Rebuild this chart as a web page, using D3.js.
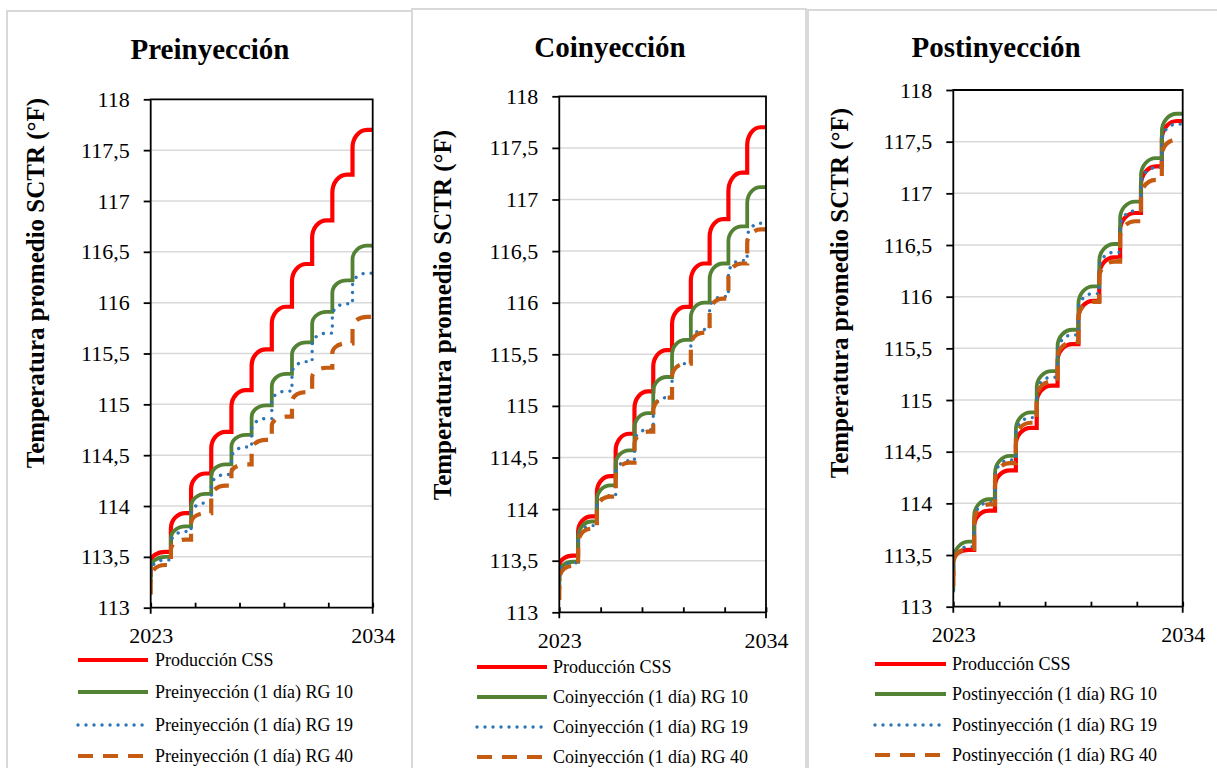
<!DOCTYPE html>
<html>
<head>
<meta charset="utf-8">
<script src="https://cdn.jsdelivr.net/npm/d3@7"></script>
<style>
  body { margin: 0; background: #fff; }
  text { font-family: "Liberation Serif", "Times New Roman", serif; fill: #000; }
  .tick line { stroke: #000; stroke-width: 1.8; }
  .domain { display: none; }
</style>
</head>
<body>
<svg id="chart" width="1217" height="768"></svg>
<script>
// step years: each cycle starts at the beginning of the year
const stepYears = [2023, 2024, 2025, 2026, 2027, 2028, 2029, 2030, 2031, 2032, 2033];
const endYear = 2034;
const yTicks = [113, 113.5, 114, 114.5, 115, 115.5, 116, 116.5, 117, 117.5, 118];
const xTicks = [2023, 2025.2, 2027.4, 2029.6, 2031.8, 2034];
const xTickLabels = [2023, 2034];

// base case (same in the three panels)
const produccionStart = 113.3;
const produccionCSS = [113.55, 113.93, 114.32, 114.73, 115.14, 115.54, 115.96, 116.38, 116.81, 117.26, 117.70];

// Preinyección
const preStart = [113.24, 113.2, 113.13];
const preRG10 = [113.50, 113.80, 114.12, 114.41, 114.70, 114.99, 115.30, 115.61, 115.91, 116.22, 116.56];
const preRG19 = [113.47, 113.75, 114.03, 114.31, 114.58, 114.86, 115.13, 115.42, 115.70, 115.99, 116.29];
const preRG40 = [113.42, 113.67, 113.93, 114.20, 114.41, 114.65, 114.88, 115.12, 115.36, 115.60, 115.86];

// Coinyección
const coStart = [113.22, 113.2, 113.12];
const coRG10 = [113.49, 113.88, 114.23, 114.57, 114.93, 115.28, 115.64, 116.00, 116.38, 116.74, 117.12];
const coRG19 = [113.48, 113.84, 114.13, 114.47, 114.77, 115.08, 115.41, 115.74, 116.06, 116.41, 116.77];
const coRG40 = [113.45, 113.81, 114.12, 114.45, 114.75, 115.08, 115.41, 115.71, 116.04, 116.38, 116.71];

// Postinyección
const postStart = [113.15, 113.15, 113.2];
const postRG10 = [113.63, 114.04, 114.46, 114.88, 115.28, 115.68, 116.10, 116.51, 116.92, 117.34, 117.77];
const postRG19 = [113.58, 114.01, 114.42, 114.83, 115.22, 115.63, 116.03, 116.43, 116.83, 117.25, 117.67];
const postRG40 = [113.56, 113.99, 114.39, 114.78, 115.18, 115.56, 115.95, 116.34, 116.73, 117.13, 117.52];

const styles = [
  { color: '#FF0000', width: 4.2, dash: null, cap: 'butt' },
  { color: '#548235', width: 3.8, dash: null, cap: 'butt' },
  { color: '#2E75B6', width: 3.4, dash: '0.01 8', cap: 'round' },
  { color: '#C55A11', width: 4.2, dash: '15 10', cap: 'butt' }
];

const panels = [
  { title: 'Preinyección', name: 'Preinyección',
    box: [7, 11, 405], plot: [150.7, 99.3, 372.7, 607.7],
    titleX: 210, titleY: 59, labelX: 44, labelY: 283,
    legend: { x1: 78, x2: 148, tx: 155, rows: [660, 692, 725, 756] },
    starts: preStart, series: [preRG10, preRG19, preRG40] },
  { title: 'Coinyección', name: 'Coinyección',
    box: [412, 9, 394], plot: [559.3, 96.3, 766, 612.3],
    titleX: 610, titleY: 57, labelX: 451, labelY: 315,
    legend: { x1: 477, x2: 547, tx: 553, rows: [667, 697, 727, 757] },
    starts: coStart, series: [coRG10, coRG19, coRG40] },
  { title: 'Postinyección', name: 'Postinyección',
    box: [808, 10, 430], plot: [953.3, 90, 1182.7, 606.7],
    titleX: 996, titleY: 57, labelX: 848, labelY: 293,
    legend: { x1: 875, x2: 946, tx: 952, rows: [664, 694, 725, 755] },
    starts: postStart, series: [postRG10, postRG19, postRG40] }
];

// vertical rise at the cycle start that rounds over into the plateau
function roundStep(rx) {
  return function (context) {
    let py, started;
    return {
      lineStart() { started = false; },
      lineEnd() {},
      point(x, y) {
        x = +x; y = +y;
        if (!started) { context.moveTo(x, y); started = true; }
        else {
          context.lineTo(x, py);
          const d = py - y;
          if (Math.abs(d) > 0.01) {
            const ry = d * 0.4;
            context.lineTo(x, y + ry);
            context.bezierCurveTo(x, y + ry * 0.45, x + rx * 0.45, y, x + rx, y);
          }
        }
        py = y;
      }
    };
  };
}

const svg = d3.select('#chart');
const fmt = d => String(d).replace('.', ',');

panels.forEach((p, pi) => {
  const g = svg.append('g');
  const [l, t, r, b] = p.plot;

  g.append('rect')
    .attr('x', p.box[0]).attr('y', p.box[1])
    .attr('width', p.box[2]).attr('height', 800)
    .attr('fill', '#fff').attr('stroke', '#d9d9d9').attr('stroke-width', 2);

  const x = d3.scaleLinear().domain([stepYears[0], endYear]).range([l, r]);
  const y = d3.scaleLinear().domain([113, 118]).range([b, t]);

  // gridlines
  g.append('g').selectAll('line').data(yTicks.slice(1, -1)).join('line')
    .attr('x1', l).attr('x2', r)
    .attr('y1', d => y(d)).attr('y2', d => y(d))
    .attr('stroke', '#d9d9d9').attr('stroke-width', 1.5);

  // title
  g.append('text')
    .attr('x', p.titleX).attr('y', p.titleY)
    .attr('text-anchor', 'middle')
    .style('font-size', '29px').style('font-weight', 'bold')
    .text(p.title);

  // y axis label
  g.append('text')
    .attr('transform', `translate(${p.labelX},${p.labelY}) rotate(-90)`)
    .attr('text-anchor', 'middle')
    .style('font-size', '25px').style('font-weight', 'bold')
    .text('Temperatura promedio SCTR (°F)');

  const yAxis = d3.axisLeft(y)
    .tickValues(yTicks)
    .tickFormat(fmt)
    .tickSize(7)
    .tickSizeOuter(0)
    .tickPadding(14);
  g.append('g').attr('transform', `translate(${l},0)`).call(yAxis)
    .selectAll('text').style('font-size', '22px');

  const xAxis = d3.axisBottom(x)
    .tickValues(xTicks)
    .tickFormat(d => xTickLabels.includes(d) ? d : '')
    .tickSize(-5)
    .tickSizeOuter(0)
    .tickPadding(20);
  g.append('g').attr('transform', `translate(0,${b})`).call(xAxis)
    .selectAll('text').style('font-size', '22px');

  // series
  const clipId = 'clip' + pi;
  g.append('clipPath').attr('id', clipId)
    .append('rect').attr('x', l).attr('y', t - 10).attr('width', r - l).attr('height', b - t + 10);

  const yearPx = x(2024) - x(2023);
  const line = d3.line()
    .x(d => x(d[0])).y(d => y(d[1]))
    .curve(roundStep(0.72 * yearPx));

  const allSeries = [[produccionStart, produccionCSS]].concat(
    p.series.map((s, i) => [p.starts[i], s]));

  allSeries.forEach(([start, levels], i) => {
    const pts = [[stepYears[0], start]]
      .concat(levels.map((v, k) => [stepYears[k], v]))
      .concat([[endYear, levels[levels.length - 1]]]);
    const st = styles[i];
    g.append('path')
      .attr('clip-path', `url(#${clipId})`)
      .attr('d', line(pts))
      .attr('fill', 'none')
      .attr('stroke', st.color)
      .attr('stroke-width', st.width)
      .attr('stroke-linecap', st.cap)
      .attr('stroke-dasharray', st.dash);
  });

  // plot frame
  g.append('path')
    .attr('d', `M${l},${b + 6}V${t}H${r}V${b + 6}M${l},${b}H${r}`)
    .attr('fill', 'none').attr('stroke', '#000').attr('stroke-width', 1.8);

  // legend
  const names = ['Producción CSS'].concat(['RG 10', 'RG 19', 'RG 40'].map(s => `${p.name} (1 día) ${s}`));
  const leg = g.append('g');
  names.forEach((n, i) => {
    const yy = p.legend.rows[i];
    const st = styles[i];
    leg.append('line')
      .attr('x1', p.legend.x1).attr('x2', p.legend.x2)
      .attr('y1', yy).attr('y2', yy)
      .attr('stroke', st.color).attr('stroke-width', st.width)
      .attr('stroke-linecap', st.cap)
      .attr('stroke-dasharray', st.dash);
    leg.append('text')
      .attr('x', p.legend.tx).attr('y', yy + 6)
      .style('font-size', '18px')
      .text(n);
  });
});
</script>
</body>
</html>
